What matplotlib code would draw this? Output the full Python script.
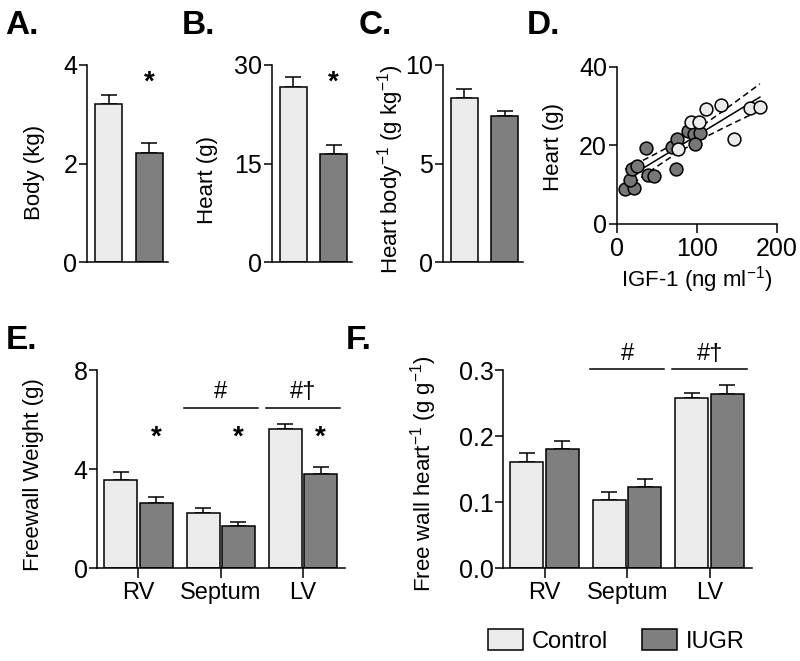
import numpy as np
import matplotlib
matplotlib.use('Agg')
import matplotlib.pyplot as plt
from matplotlib.patches import Patch

plt.rcParams['font.family'] = ['Liberation Sans', 'DejaVu Sans']
plt.rcParams['mathtext.fontset'] = 'custom'
plt.rcParams['mathtext.rm'] = 'Liberation Sans'
plt.rcParams['mathtext.default'] = 'regular'

# --- data ---
groups = ['Control', 'IUGR']
body_mean = [3.21, 2.22]
body_sem = [0.19, 0.19]
heart_mean = [26.6, 16.4]
heart_sem = [1.6, 1.4]
ratio_mean = [8.34, 7.43]
ratio_sem = [0.43, 0.25]

igf_ctrl = [111, 130, 167, 179, 146, 93, 102.5, 76.6]
hw_ctrl = [29.1, 30.2, 29.5, 29.7, 21.5, 25.9, 25.8, 18.9]
igf_iugr = [10.5, 21, 16.7, 18.8, 25, 36.8, 39.7, 46.9, 74, 69, 75.3, 88.7, 97, 104.6, 97.5]
hw_iugr = [8.7, 9.1, 11.2, 14.0, 14.6, 19.3, 12.4, 12.0, 14.0, 19.6, 21.5, 23.5, 22.9, 23.1, 20.4]

sites = ['RV', 'Septum', 'LV']
fw_ctrl = [3.56, 2.22, 5.61]
fw_ctrl_sem = [0.34, 0.23, 0.21]
fw_iugr = [2.62, 1.71, 3.80]
fw_iugr_sem = [0.27, 0.15, 0.30]

rel_ctrl = [0.161, 0.104, 0.257]
rel_ctrl_sem = [0.014, 0.012, 0.008]
rel_iugr = [0.180, 0.123, 0.264]
rel_iugr_sem = [0.012, 0.012, 0.013]

c_ctrl = '#ebebeb'
c_iugr = '#7f7f7f'
lw = 1.1

fig = plt.figure(figsize=(8, 6.61), dpi=100)
W, H = 800.0, 661.0


def add_ax(x0, x1, ytop, ybot):
    return fig.add_axes([x0 / W, 1 - ybot / H, (x1 - x0) / W, (ybot - ytop) / H])


def style(ax):
    for s in ['top', 'right']:
        ax.spines[s].set_visible(False)
    for s in ['left', 'bottom']:
        ax.spines[s].set_linewidth(lw)
    ax.tick_params(axis='y', direction='out', length=5.5, width=lw, labelsize=18, pad=1.5)
    ax.tick_params(axis='x', direction='out', length=7, width=lw, labelsize=17, pad=3)


def bars(ax, x, mean, sem, color, width):
    x = np.asarray(x, dtype=float)
    ax.bar(x, mean, width, color=color, edgecolor='black', linewidth=lw, zorder=2)
    ax.errorbar(x, mean, yerr=[np.zeros(len(mean)), sem], fmt='none', ecolor='black',
                elinewidth=lw, capsize=5.5, capthick=lw, zorder=1)


def star(ax, x, y):
    ax.annotate('*', (x, y), xytext=(0, -11.5), textcoords='offset points',
                ha='center', va='baseline', fontsize=20, fontweight='bold',
                annotation_clip=False)


# --- A, B, C simple two-bar panels ---
simple = [
    ((87, 168), body_mean, body_sem, [0, 2, 4], 'Body (kg)', (-0.654, 0.457), 3.82),
    ((272, 352), heart_mean, heart_sem, [0, 15, 30], 'Heart (g)', (-0.80, 0.416), 28.7),
    ((443, 523), ratio_mean, ratio_sem, [0, 5, 10], 'Heart body$^{-1}$ (g kg$^{-1}$)', (-0.65, 0.472), None),
]
for (x0, x1), mean, sem, ticks, ylab, lab_xy, star_y in simple:
    ax = add_ax(x0, x1, 65, 262)
    style(ax)
    bars(ax, [0], mean[:1], sem[:1], c_ctrl, 0.66)
    bars(ax, [1], mean[1:], sem[1:], c_iugr, 0.66)
    ax.set_xlim(-0.53, 1.46)
    ax.set_ylim(ticks[0], ticks[-1])
    ax.set_yticks(ticks)
    ax.set_xticks([])
    ax.set_ylabel(ylab, fontsize=16, va='center')
    ax.yaxis.set_label_coords(*lab_xy)
    if star_y is not None:
        star(ax, 1, star_y)

# --- D scatter with regression ---
axd = add_ax(616.7, 776.7, 66.7, 223.5)
style(axd)
axd.tick_params(axis='x', length=6.5, labelsize=18, pad=3)
xa = np.array(igf_iugr + igf_ctrl)
ya = np.array(hw_iugr + hw_ctrl)
slope, icpt = np.polyfit(xa, ya, 1)
n = len(xa)
resid = ya - (slope * xa + icpt)
s_err = np.sqrt(np.sum(resid ** 2) / (n - 2))
sxx = np.sum((xa - xa.mean()) ** 2)
xf = np.linspace(xa.min(), xa.max(), 100)
yf = slope * xf + icpt
ci = 2.074 * s_err * np.sqrt(1.0 / n + (xf - xa.mean()) ** 2 / sxx)
axd.plot(xf, yf, color='black', lw=1.1, zorder=1)
axd.plot(xf, yf + ci, color='black', lw=1.1, ls=(0, (4, 2.5)), zorder=1)
axd.plot(xf, yf - ci, color='black', lw=1.1, ls=(0, (4, 2.5)), zorder=1)
axd.scatter(igf_iugr, hw_iugr, s=85, color='#777777', edgecolor='black', linewidth=1.1,
            zorder=3, clip_on=False)
axd.scatter(igf_ctrl, hw_ctrl, s=85, color=c_ctrl, edgecolor='black', linewidth=1.1,
            zorder=3, clip_on=False)
axd.set_xlim(0, 200)
axd.set_ylim(0, 40)
axd.set_xticks([0, 100, 200])
axd.set_yticks([0, 20, 40])
axd.set_ylabel('Heart (g)', fontsize=16, va='center')
axd.yaxis.set_label_coords(-0.398, 0.488)
axd.set_xlabel('IGF-1 (ng ml$^{-1}$)', fontsize=16, va='center')
axd.xaxis.set_label_coords(0.5, -0.36)

# --- E and F grouped panels ---
grouped = [
    ((97.3, 345), fw_ctrl, fw_ctrl_sem, fw_iugr, fw_iugr_sem, [0, 4, 8],
     'Freewall Weight (g)', (-0.259, 0.473), 6.45, 6.87, 5.62),
    ((503.3, 751.7), rel_ctrl, rel_ctrl_sem, rel_iugr, rel_iugr_sem, [0.0, 0.1, 0.2, 0.3],
     'Free wall heart$^{-1}$ (g g$^{-1}$)', (-0.323, 0.48), 0.301, 0.315, None),
]
xg = np.arange(len(sites))
for (x0, x1), mc, sc, mi, si, ticks, ylab, lab_xy, line_y, hash_y, star_y in grouped:
    ax = add_ax(x0, x1, 370, 568.3)
    style(ax)
    bars(ax, xg - 0.215, mc, sc, c_ctrl, 0.40)
    bars(ax, xg + 0.215, mi, si, c_iugr, 0.40)
    ax.set_xlim(-0.5, 2.51)
    ax.set_ylim(ticks[0], ticks[-1])
    ax.set_yticks(ticks)
    if ticks[-1] < 1:
        ax.set_yticklabels(['%.1f' % t for t in ticks])
    ax.set_xticks(xg)
    ax.set_xticklabels(sites)
    ax.set_ylabel(ylab, fontsize=16, va='center')
    ax.yaxis.set_label_coords(*lab_xy)
    for g, mark in [(1, '#'), (2, '#\u2020')]:
        ax.plot([g - 0.45, g + 0.45], [line_y, line_y], color='black', lw=1.1, clip_on=False)
        ax.text(g, hash_y, mark, ha='center', va='baseline', fontsize=17)
    if star_y is not None:
        for g in xg:
            star(ax, g + 0.215, star_y)

# --- panel letters ---
for lab, px, py in [('A.', 5, 34), ('B.', 182, 34), ('C.', 359, 34), ('D.', 527, 34),
                    ('E.', 6, 349), ('F.', 346, 349)]:
    fig.text(px / W, 1 - py / H, lab, fontsize=24, fontweight='bold', va='baseline', ha='left')

# --- legend ---
handles = [Patch(facecolor=c_ctrl, edgecolor='black', linewidth=lw),
           Patch(facecolor=c_iugr, edgecolor='black', linewidth=lw)]
fig.legend(handles, groups, loc='center', bbox_to_anchor=(616.5 / W, 1 - 641 / H),
           ncol=2, frameon=False, fontsize=17, handlelength=1.47, handleheight=1.0,
           handletextpad=0.38, columnspacing=1.45)

fig.savefig('out.png', dpi=100)
